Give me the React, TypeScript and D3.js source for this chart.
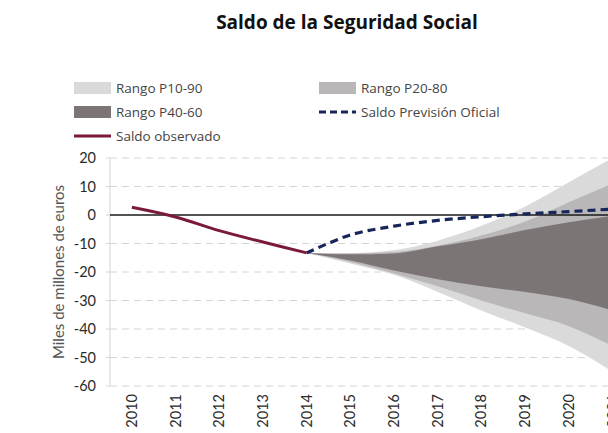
import React from "react";
import * as d3 from "d3";

const years = [2010, 2011, 2012, 2013, 2014, 2015, 2016, 2017, 2018, 2019, 2020, 2021];
const yTicks = [20, 10, 0, -10, -20, -30, -40, -50, -60];

// observed balance
const observedYears = [2010, 2011, 2012, 2013, 2014];
const observed = [2.7, -0.7, -5.5, -9.5, -13.3];

// official forecast and fan bands
const forecastYears = [2014, 2015, 2016, 2017, 2018, 2019, 2020, 2021];
const official = [-13.3, -7.0, -3.9, -1.9, -0.6, 0.4, 1.2, 2.1];
const p10 = [-13.3, -17, -21, -27, -33.5, -39.5, -46, -55];
const p20 = [-13.3, -16.5, -20.5, -25, -30, -34.5, -39, -46];
const p40 = [-13.3, -16, -19.5, -22.5, -25, -27, -29.5, -33.5];
const p60 = [-13.3, -13.8, -13.5, -11, -8.5, -5.3, -2.5, -0.3];
const p80 = [-13.3, -13.5, -13, -10.8, -7.2, -2.3, 4.5, 11];
const p90 = [-13.3, -13.3, -12.3, -9, -3.8, 3, 11.5, 20];

const W = 608;
const H = 433;
const plotLeft = 110;
const step = 43.7;
const labelFont = "Lato, 'Open Sans', sans-serif";
const titleFont = "'Open Sans', sans-serif";

const colors = {
  light: "#dadada",
  mid: "#b9b7b7",
  dark: "#7c7575",
  observed: "#7a1a38",
  official: "#16265a",
};

export default function App() {
  const x = d3
    .scaleBand<number>()
    .domain(years)
    .range([plotLeft, plotLeft + step * years.length]);
  const cx = (yr: number) => (x(yr) as number) + x.bandwidth() / 2;
  const y = d3.scaleLinear().domain([-60, 20]).range([386, 158]);

  const band = (lo: number[], hi: number[]) =>
    d3
      .area<number>()
      .x((_, i) => cx(forecastYears[i]))
      .y0((_, i) => y(lo[i]))
      .y1((_, i) => y(hi[i]))
      .curve(d3.curveMonotoneX)(lo.map((_, i) => i)) as string;

  const lineGen = (ys: number[], vals: number[]) =>
    d3
      .line<number>()
      .x((_, i) => cx(ys[i]))
      .y((v) => y(v))
      .curve(d3.curveCatmullRom)(vals) as string;

  const legendItems = [
    { label: "Rango P10-90", kind: "box", color: colors.light, x: 74, y: 88 },
    { label: "Rango P20-80", kind: "box", color: colors.mid, x: 319, y: 88 },
    { label: "Rango P40-60", kind: "box", color: colors.dark, x: 74, y: 112 },
    { label: "Saldo Previsión Oficial", kind: "dash", color: colors.official, x: 319, y: 112 },
    { label: "Saldo observado", kind: "line", color: colors.observed, x: 74, y: 136 },
  ];

  return (
    <svg
      width={W}
      height={H}
      style={{ position: "absolute", left: 0, top: 0, background: "#fff" }}
    >
      <text
        x={347}
        y={29}
        textAnchor="middle"
        fontFamily={titleFont}
        fontWeight="bold"
        fontSize={19}
        fill="#111"
      >
        Saldo de la Seguridad Social
      </text>

      {legendItems.map((d) => (
        <g key={d.label}>
          {d.kind === "box" && (
            <rect x={d.x} y={d.y - 6} width={37} height={12} fill={d.color} />
          )}
          {d.kind === "dash" && (
            <line
              x1={d.x}
              x2={d.x + 37}
              y1={d.y}
              y2={d.y}
              stroke={d.color}
              strokeWidth={3}
              strokeDasharray="7,4"
            />
          )}
          {d.kind === "line" && (
            <line x1={d.x} x2={d.x + 37} y1={d.y} y2={d.y} stroke={d.color} strokeWidth={3} />
          )}
          <text
            x={d.x + 42}
            y={d.y + 5}
            fontFamily={titleFont}
            fontSize={13.5}
            fill="#444"
          >
            {d.label}
          </text>
        </g>
      ))}

      {/* grid */}
      {yTicks
        .filter((t) => t !== 0)
        .map((t) => (
          <line
            key={t}
            x1={plotLeft}
            x2={W}
            y1={y(t)}
            y2={y(t)}
            stroke="#d4d4d4"
            strokeWidth={1}
            strokeDasharray="7,5"
          />
        ))}
      <line x1={plotLeft} x2={plotLeft} y1={y(20)} y2={y(-60)} stroke="#d4d4d4" />
      {yTicks.map((t) => (
        <g key={"t" + t}>
          <line x1={plotLeft - 4} x2={plotLeft} y1={y(t)} y2={y(t)} stroke="#d4d4d4" />
          <text
            x={96}
            y={y(t) + 5}
            textAnchor="end"
            fontFamily={labelFont}
            fontSize={14.5}
            fill="#2a2a2a"
          >
            {t}
          </text>
        </g>
      ))}

      <text
        transform={`translate(64, ${y(-20)}) rotate(-90)`}
        textAnchor="middle"
        fontFamily={labelFont}
        fontSize={15}
        fill="#555"
      >
        Miles de millones de euros
      </text>

      {/* fan bands */}
      <path d={band(p10, p90)} fill={colors.light} />
      <path d={band(p20, p80)} fill={colors.mid} />
      <path d={band(p40, p60)} fill={colors.dark} />

      <line x1={plotLeft} x2={W} y1={y(0)} y2={y(0)} stroke="#1a1a1a" strokeWidth={1.5} />

      <path
        d={lineGen(forecastYears, official)}
        fill="none"
        stroke={colors.official}
        strokeWidth={3.2}
        strokeDasharray="8,5"
      />
      <path
        d={lineGen(observedYears, observed)}
        fill="none"
        stroke={colors.observed}
        strokeWidth={3}
      />

      {years.map((yr) => (
        <text
          key={yr}
          transform={`translate(${cx(yr) + 5}, 394) rotate(-90)`}
          textAnchor="end"
          fontFamily={labelFont}
          fontSize={14.5}
          fill="#2a2a2a"
        >
          {yr}
        </text>
      ))}
    </svg>
  );
}
